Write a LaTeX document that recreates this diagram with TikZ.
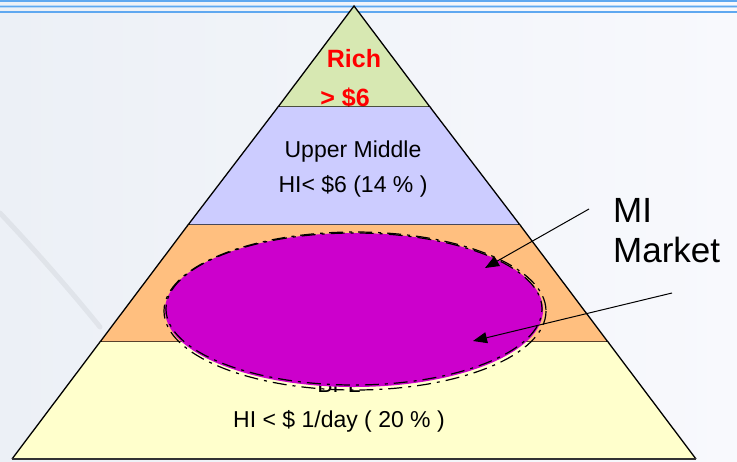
\documentclass[tikz,border=0pt]{standalone}
\usepackage{fontspec}
\setmainfont{Liberation Sans}
\usetikzlibrary{arrows.meta}
\definecolor{bgA}{RGB}{236,240,246}
\definecolor{bgB}{RGB}{248,249,253}
\definecolor{topblue}{RGB}{95,168,240}
\definecolor{richgreen}{RGB}{215,232,178}
\definecolor{uppurple}{RGB}{204,204,255}
\definecolor{midorange}{RGB}{255,191,127}
\definecolor{lowyellow}{RGB}{255,255,204}
\definecolor{mimag}{RGB}{204,0,204}
\definecolor{richred}{RGB}{255,0,0}
\tikzset{
  band/.style={draw=black, line width=1.3pt, line join=miter},
  lbl/.style={inner sep=0pt, anchor=base, font=\fontsize{23}{27}\selectfont},
  richlbl/.style={inner sep=0pt, anchor=base, text=richred, font=\fontsize{25}{29}\selectfont\bfseries},
  bigl/.style={inner sep=0pt, anchor=base west, font=\fontsize{35}{40}\selectfont},
  dashring/.style={draw=black, line width=1.2pt, dash pattern=on 14pt off 6pt on 3pt off 6pt},
  pointer/.style={draw=black, line width=1pt, -{Triangle[length=14pt,width=11pt]}}
}
\begin{document}
\begin{tikzpicture}[x=1pt,y=-1pt]
\useasboundingbox (0,0) rectangle (737,461);
% background
\shade[left color=bgA, right color=bgB] (0,0) rectangle (737,461);
\draw[black, opacity=0.05, line width=5pt, line cap=round] (0,213) .. controls (35,250) and (70,290) .. (100,327);
% top blue rules
\foreach \yy in {1,6.5,12}{
  \draw[topblue!45, line width=2.6pt] (0,\yy) -- (737,\yy);
  \draw[topblue, line width=1.3pt] (0,\yy) -- (737,\yy);
}
% pyramid bands
\fill[richgreen] (354,6) -- (278,107) -- (430,107) -- cycle;
\node[richlbl] (rich) at (354,67) {Rich};
\node[richlbl] (richval) at (345,106) {> \$6};
\draw[band] (354,6) -- (278,107) -- (430,107) -- cycle;
\fill[uppurple] (278,107) -- (188,225) -- (520,225) -- (430,107) -- cycle;
\draw[band] (278,107) -- (188,225) -- (520,225) -- (430,107);
\node[lbl] (upper) at (353,157) {Upper Middle};
\node[lbl] (upperval) at (353,192) {HI< \$6 (14 \% )};
\fill[midorange] (188,225) -- (100,342) -- (608,342) -- (520,225) -- cycle;
\draw[band] (188,225) -- (100,342) -- (608,342) -- (520,225);
\fill[lowyellow] (100,342) -- (12,459) -- (696,459) -- (608,342) -- cycle;
\draw[band] (100,342) -- (12,459);
\draw[band] (608,342) -- (696,459);
\draw[black!80, line width=2pt] (12,459) -- (696,459);
\node[lbl] (bpl) at (339,392) {BPL};
\node[lbl] (lowval) at (339,427) {HI < \$ 1/day ( 20 \% )};
% MI ellipse
\fill[mimag] (354,310) ellipse [x radius=189, y radius=77];
\draw[dashring] (355,311) ellipse [x radius=191, y radius=79];
\draw[dashring, dash phase=11pt] (354,309) ellipse [x radius=188, y radius=76];
% label and pointers
\node[bigl] (mi) at (613,222) {MI};
\node[bigl] (market) at (613,262) {Market};
\coordinate (p1s) at (589,209);
\coordinate (p1e) at (485,268);
\coordinate (p2s) at (672,293);
\coordinate (p2e) at (473,341);
\draw[pointer] (p1s) -- (p1e);
\draw[pointer] (p2s) -- (p2e);
\end{tikzpicture}
\end{document}
